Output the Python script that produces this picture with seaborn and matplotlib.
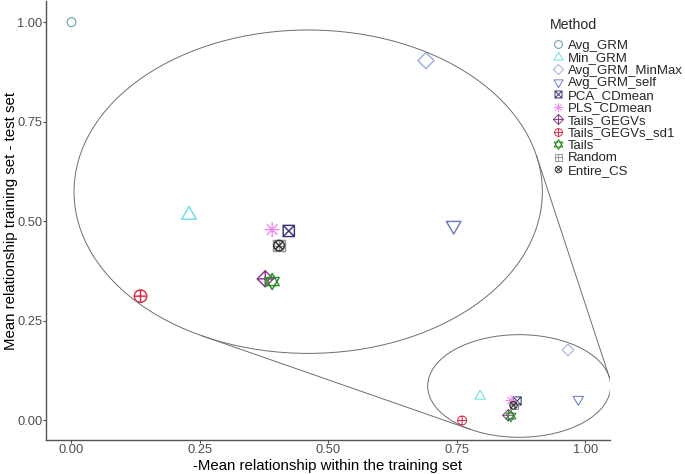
import numpy as np
import pandas as pd
import seaborn as sns
import matplotlib.pyplot as plt
from matplotlib.path import Path
from matplotlib.markers import MarkerStyle
from matplotlib.patches import Ellipse
from matplotlib.lines import Line2D

# valores
methods = ["Avg_GRM", "Min_GRM", "Avg_GRM_MinMax", "Avg_GRM_self", "PCA_CDmean",
           "PLS_CDmean", "Tails_GEGVs", "Tails_GEGVs_sd1", "Tails", "Random", "Entire_CS"]
x_within = [0.000, 0.795, 0.966, 0.986, 0.867, 0.855, 0.850, 0.760, 0.855, 0.860, 0.860]
y_test = [1.000, 0.061, 0.177, 0.053, 0.049, 0.050, 0.013, 0.000, 0.011, 0.038, 0.038]

colores = ["#5a9eaa", "#6fdde4", "#9fb0d9", "#6b7fc2", "#3b357c",
           "#f08af0", "#8b3a8b", "#dc2d48", "#2f8f2f", "#959595", "#333333"]

datos = pd.DataFrame({"Method": methods, "x": x_within, "y": y_test})

# marcadores tipo pch de R
def seg(p, q):
    return Path([p, q], [Path.MOVETO, Path.LINETO])

def poly(pts):
    return Path(pts + [pts[0]], closed=True)

d = 0.7071
circ = Path.unit_circle()
cuad = poly([(-1, -1), (1, -1), (1, 1), (-1, 1)])
rombo = poly([(0, 1), (1, 0), (0, -1), (-1, 0)])
tri_up = poly([(0, 1), (-0.866, -0.5), (0.866, -0.5)])
tri_dn = poly([(0, -1), (0.866, 0.5), (-0.866, 0.5)])
cruz = [seg((-1, 0), (1, 0)), seg((0, -1), (0, 1))]
aspa = [seg((-d, -d), (d, d)), seg((-d, d), (d, -d))]
aspa1 = [seg((-1, -1), (1, 1)), seg((-1, 1), (1, -1))]

marcas = {
    "Avg_GRM": ("o", 1.0),
    "Min_GRM": (tri_up, 1.35),
    "Avg_GRM_MinMax": (rombo, 1.3),
    "Avg_GRM_self": (tri_dn, 1.35),
    "PCA_CDmean": (Path.make_compound_path(cuad, *aspa1), 0.9),
    "PLS_CDmean": (Path.make_compound_path(*cruz, *aspa), 1.2),
    "Tails_GEGVs": (Path.make_compound_path(rombo, *cruz), 1.3),
    "Tails_GEGVs_sd1": (Path.make_compound_path(circ, *cruz), 1.0),
    "Tails": (Path.make_compound_path(tri_up, tri_dn), 1.3),
    "Random": (Path.make_compound_path(cuad, *cruz), 0.9),
    "Entire_CS": (Path.make_compound_path(circ, *aspa), 0.85),
}

sns.set_style("ticks")
plt.rcParams["font.family"] = ["Liberation Sans", "DejaVu Sans"]

fig = plt.figure(figsize=(6.85, 4.74), dpi=100)
ax = fig.add_axes([46 / 685, 34 / 474, 564 / 685, 439 / 474])

# zona ampliada (elipse pequeña) y destino (elipse grande)
src_c, src_w, src_h = (0.871, 0.0866), 0.356, 0.2576
dst_c, dst_a, dst_b = (0.4605, 0.5743), 0.4556, 0.4059
axins = ax.inset_axes([dst_c[0] - dst_a, dst_c[1] - dst_b, 2 * dst_a, 2 * dst_b],
                      transform=ax.transData)

base = 6.4
for m, col in zip(methods, colores):
    mk, f = marcas[m]
    sub = datos[datos.Method == m]
    for eje, esc in ((ax, 1.0), (axins, 1.4)):
        sns.scatterplot(data=sub, x="x", y="y", marker=MarkerStyle(mk),
                        s=(base * f * esc) ** 2, color=col, facecolor="none",
                        edgecolor=col, linewidth=0.75 * esc, legend=False, ax=eje)

axins.set_xlim(0.712, 1.050)
axins.set_ylim(-0.043, 0.200)
axins.set_xticks([])
axins.set_yticks([])
axins.set_xlabel("")
axins.set_ylabel("")
axins.axis("off")
elipse_g = Ellipse((0.5, 0.5), 1, 1, transform=axins.transAxes, fc="none",
                   ec="#6e6e6e", lw=0.7, clip_on=False)
axins.add_patch(elipse_g)
for c in axins.collections:
    c.set_clip_path(elipse_g)

ax.add_patch(Ellipse(src_c, src_w, src_h, fc="none", ec="#6e6e6e", lw=0.7))

# lineas de proyeccion: envolvente convexa de las dos elipses
t = np.linspace(0, 2 * np.pi, 720, endpoint=False)
pa = np.c_[src_c[0] + src_w / 2 * np.cos(t), src_c[1] + src_h / 2 * np.sin(t)]
pb = np.c_[dst_c[0] + dst_a * np.cos(t), dst_c[1] + dst_b * np.sin(t)]
esc_xy = np.array([514.0, 398.4])
pts = np.vstack([pa, pb]) * esc_xy
grupo = np.r_[np.zeros(len(pa)), np.ones(len(pb))]
orden = np.lexsort((pts[:, 1], pts[:, 0]))

def cross(o, a, b):
    return (a[0] - o[0]) * (b[1] - o[1]) - (a[1] - o[1]) * (b[0] - o[0])

def casco(idx):
    h = []
    for i in idx:
        while len(h) >= 2 and cross(pts[h[-2]], pts[h[-1]], pts[i]) <= 0:
            h.pop()
        h.append(i)
    return h

hull = casco(orden)[:-1] + casco(orden[::-1])[:-1]
for i, j in zip(hull, hull[1:] + hull[:1]):
    if grupo[i] != grupo[j]:
        p, q = pts[i] / esc_xy, pts[j] / esc_xy
        ax.plot([p[0], q[0]], [p[1], q[1]], color="#6e6e6e", lw=0.7)

ax.set_xlim(-0.0496, 1.0477)
ax.set_ylim(-0.049, 1.053)
ax.set_xticks([0, 0.25, 0.5, 0.75, 1.0])
ax.set_yticks([0, 0.25, 0.5, 0.75, 1.0])
ax.set_xticklabels(["0.00", "0.25", "0.50", "0.75", "1.00"])
ax.set_yticklabels(["0.00", "0.25", "0.50", "0.75", "1.00"])
ax.tick_params(labelsize=9.3, colors="#4d4d4d", length=2.2, width=0.8)
ax.tick_params(axis="x", pad=0.6)
ax.tick_params(axis="y", pad=0.3)
ax.set_xlabel("-Mean relationship within the training set", fontsize=10.8, color="black")
ax.set_ylabel("Mean relationship training set - test set", fontsize=10.8, color="black")
ax.xaxis.set_label_coords(0.5, -0.043)
ax.yaxis.set_label_coords(-0.0488, 0.5)
for lado in ["top", "right"]:
    ax.spines[lado].set_visible(False)
for lado in ["left", "bottom"]:
    ax.spines[lado].set_color("#555555")
    ax.spines[lado].set_linewidth(1.0)

# leyenda
fig.text(550 / 685, 1 - 25 / 474, "Method", fontsize=10.2, va="center", ha="left")
asas = []
for m, col in zip(methods, colores):
    mk, f = marcas[m]
    asas.append(Line2D([], [], marker=MarkerStyle(mk), markersize=5.6 * f, mfc="none",
                       mec=col, mew=0.7, linestyle="None"))
fig.legend(asas, methods, loc="upper left", bbox_to_anchor=(552.4 / 685, 1 - 39.5 / 474),
           frameon=False, fontsize=9.5, handlelength=0.8, handletextpad=0.4,
           labelspacing=0.02, borderaxespad=0, borderpad=0)

fig.savefig("out.png", dpi=100)
